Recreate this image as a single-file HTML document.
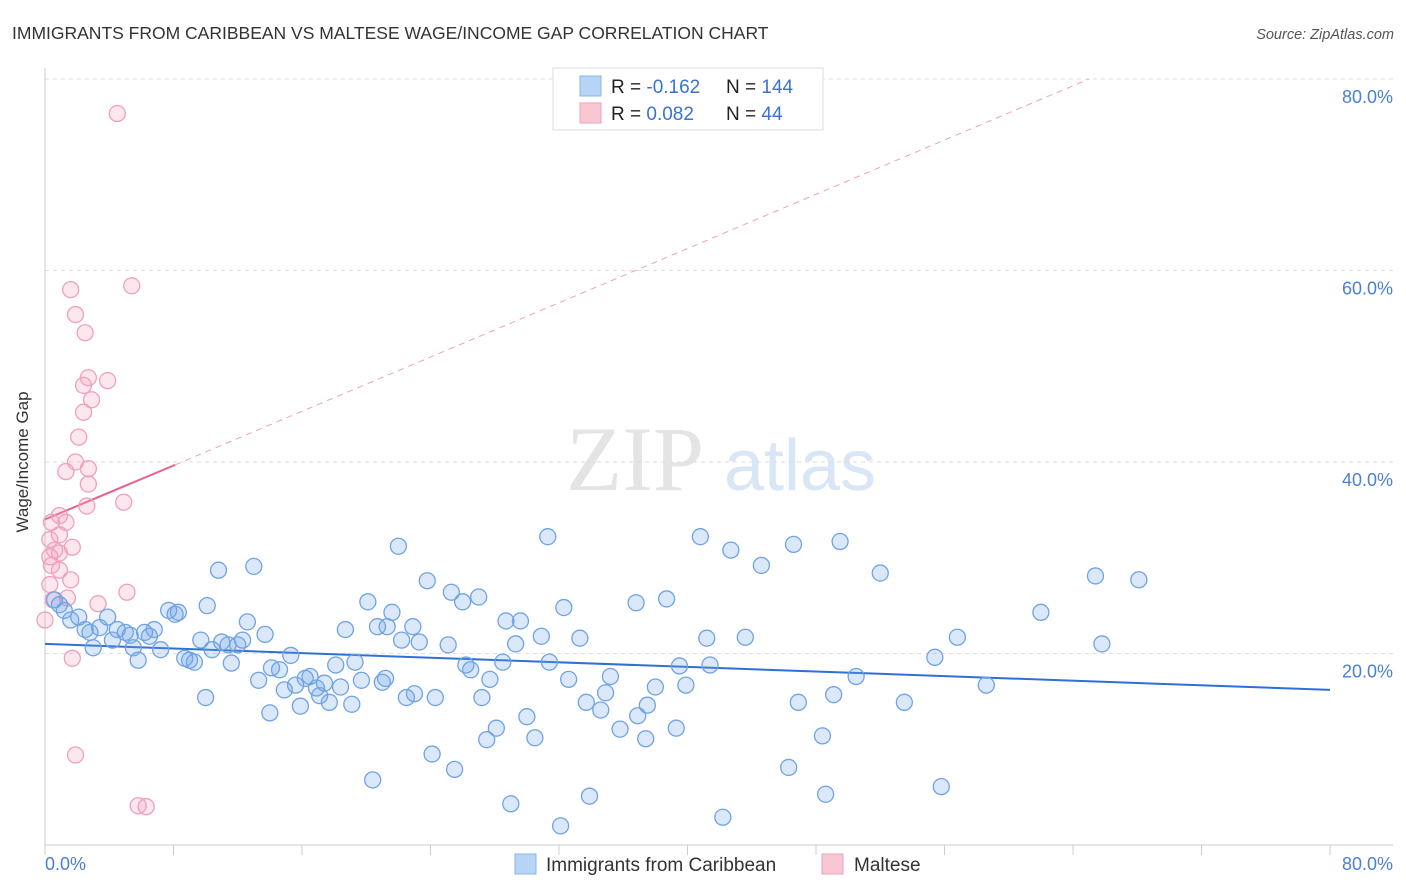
<!DOCTYPE html>
<html><head><meta charset="utf-8">
<style>
body{margin:0;background:#fff;font-family:"Liberation Sans",sans-serif;}
svg{display:block}
</style></head>
<body>
<svg id="chart" width="1406" height="892" xmlns="http://www.w3.org/2000/svg">
<text x="12" y="39" font-size="17.5" fill="#333">IMMIGRANTS FROM CARIBBEAN VS MALTESE WAGE/INCOME GAP CORRELATION CHART</text>
<text x="1394" y="39" font-size="14.5" fill="#555" font-style="italic" text-anchor="end">Source: ZipAtlas.com</text>
<g>
<text x="635" y="490" font-size="92" fill="#e4e4e4" font-family="Liberation Serif,serif" text-anchor="middle">ZIP</text>
<text x="800" y="490" font-size="72" fill="#d8e6f6" text-anchor="middle">atlas</text>
</g>
<g id="grid"></g>
<g id="axes"></g>
<g id="trend"></g>
<g id="pts"></g>
<text x="21" y="455" font-size="17" fill="#333" text-anchor="middle" transform="rotate(-90 28 455)">Wage/Income Gap</text>
<g>
<rect x="553" y="68" width="270" height="62" fill="#fff" stroke="#ddd"/>
<rect x="580" y="76" width="21" height="20" fill="#b8d4f4" stroke="#8ab4ea"/>
<rect x="580" y="103" width="21" height="20" fill="#f9c6d4" stroke="#f0a0b8"/>
<text x="611" y="93" font-size="19" fill="#222">R = <tspan fill="#3a72d2">-0.162</tspan></text>
<text x="726" y="93" font-size="19" fill="#222">N = <tspan fill="#3a72d2">144</tspan></text>
<text x="611" y="120" font-size="19" fill="#222">R = <tspan fill="#3a72d2"> 0.082</tspan></text>
<text x="726" y="120" font-size="19" fill="#222">N = <tspan fill="#3a72d2">  44</tspan></text>
</g>
<g>
<rect x="515" y="854" width="21" height="20" fill="#b8d4f4" stroke="#8ab4ea"/>
<text x="546" y="871" font-size="19" fill="#333">Immigrants from Caribbean</text>
<rect x="822" y="854" width="21" height="20" fill="#f9c6d4" stroke="#f0a0b8"/>
<text x="854" y="871" font-size="19" fill="#333">Maltese</text>
</g>
</svg>
<script>
const yTicks=[20,40,60,80];
const yTickLabels=["20.0%","40.0%","60.0%","80.0%"];
const xTickLabels=["0.0%","80.0%"];
const blueX=[0.6,0.9,1.2,1.6,2.1,2.5,2.8,3.0,3.4,3.9,4.2,4.5,5.0,5.3,5.5,5.8,6.2,6.5,6.8,7.2,7.7,8.1,8.3,8.7,9.0,9.3,9.7,10.0,10.1,10.4,10.8,11.0,11.4,11.6,12.0,12.3,12.6,13.0,13.3,13.7,14.0,14.1,14.6,14.9,15.3,15.6,15.9,16.2,16.5,16.9,17.1,17.4,17.7,18.1,18.4,18.7,19.1,19.3,19.7,20.1,20.4,20.7,21.0,21.2,21.3,21.6,22.0,22.2,22.5,22.9,23.0,23.3,23.8,24.1,24.3,25.1,25.3,25.5,26.0,26.2,26.5,27.0,27.2,27.5,27.7,28.1,28.5,28.7,29.0,29.3,29.6,30.0,30.5,30.9,31.3,31.4,32.3,32.6,33.3,33.7,33.9,34.6,34.9,35.2,35.8,36.8,36.9,37.4,37.5,38.0,38.7,39.3,39.5,39.9,40.8,41.2,41.4,42.2,42.7,43.6,44.6,46.3,46.6,46.9,48.4,48.6,49.1,49.5,50.5,52.0,53.5,55.4,55.8,56.8,58.6,62.0,65.4,65.8,68.1,32.1];
const blueY=[25.6,25.1,24.5,23.5,23.8,22.5,22.2,20.6,22.7,23.8,21.4,22.5,22.2,21.9,20.6,19.3,22.2,21.8,22.5,20.4,24.5,24.1,24.3,19.5,19.3,19.1,21.4,15.4,25.0,20.4,28.7,21.2,20.9,19.0,20.9,21.4,23.3,29.1,17.2,22.0,13.8,18.5,18.3,16.2,19.8,16.7,14.5,17.4,17.6,16.4,15.6,16.9,14.9,18.8,16.5,22.5,14.7,19.1,17.2,25.4,6.8,22.8,17.0,17.4,22.8,24.3,31.2,21.4,15.4,22.8,15.8,21.2,27.6,9.5,15.4,20.9,26.4,7.9,25.4,18.8,18.3,25.9,15.4,11.0,17.3,12.2,19.1,23.4,4.3,21.0,23.4,13.4,11.2,21.8,32.2,19.1,24.8,17.3,21.6,14.9,5.1,14.1,15.9,17.6,12.1,25.3,13.5,11.1,14.6,16.5,25.7,12.2,18.7,16.7,32.2,21.6,18.8,2.9,30.8,21.7,29.2,8.1,31.4,14.9,11.4,5.3,15.7,31.7,17.6,28.4,14.9,19.6,6.1,21.7,16.7,24.3,28.1,21.0,27.7,2.0];
const pinkX=[4.5,5.4,1.6,1.9,2.5,2.7,2.4,3.9,2.9,2.4,2.1,1.9,2.7,1.3,2.7,2.6,4.9,0.9,1.3,0.4,0.9,0.3,1.7,0.6,0.9,0.3,0.4,0.9,1.6,0.3,5.1,1.4,3.3,0.5,1.7,1.9,5.8,6.3,0.0];
const pinkY=[76.4,58.4,58.0,55.4,53.5,48.8,48.0,48.5,46.5,45.2,42.6,40.0,39.3,39.0,37.7,35.4,35.8,34.4,33.7,33.7,32.4,31.9,31.1,30.8,30.5,30.1,29.2,28.7,27.7,27.2,26.4,25.8,25.2,25.6,19.5,9.4,4.1,4.0,23.5];
const blueTrend=[21.0,16.2];
const pinkTrend=[34.0,39.7,80.0];
const pinkTrendX=[0,8.1,65];
const NS="http://www.w3.org/2000/svg";
const X0=45,X1=1330,Y0=845,YT=79;
const sx=v=>X0+(X1-X0)*v/80;
const sy=v=>Y0-(Y0-YT)*v/80;
function mk(tag,attrs,parent){const e=document.createElementNS(NS,tag);for(const k in attrs)e.setAttribute(k,attrs[k]);parent.appendChild(e);return e;}
const grid=document.getElementById('grid');
yTicks.forEach((t,i)=>{
 const l=mk('line',{x1:X0,x2:1393,y1:sy(t),y2:sy(t),stroke:'#ddd','stroke-dasharray':'4,4'},grid);
 
 
 const tx=mk('text',{x:1393,y:sy(t)+24,'font-size':18,fill:'#4a7fd4','text-anchor':'end'},grid);
 tx.textContent=yTickLabels[i];
 
 
});
const axes=document.getElementById('axes');
mk('line',{x1:X0,x2:X0,y1:68,y2:Y0,stroke:'#ccc'},axes);
mk('line',{x1:X0,x2:1393,y1:Y0,y2:Y0,stroke:'#ccc'},axes);
for(let v=0;v<=80;v+=8){mk('line',{x1:sx(v),x2:sx(v),y1:Y0,y2:Y0+10,stroke:'#ccc'},axes);}
const xl0=mk('text',{x:45,y:870,'font-size':18,fill:'#4a7fd4'},axes);xl0.textContent=xTickLabels[0];


const xl1=mk('text',{x:1393,y:870,'font-size':18,fill:'#4a7fd4','text-anchor':'end'},axes);xl1.textContent=xTickLabels[1];


const pts=document.getElementById('pts');
pinkX.forEach((x,i)=>{
 const c=mk('circle',{cx:sx(x),cy:sy(pinkY[i]),r:8,fill:'rgba(244,160,186,0.25)',stroke:'#f0a0b8','stroke-width':1.3},pts);
 
 
});
blueX.forEach((x,i)=>{
 const c=mk('circle',{cx:sx(x),cy:sy(blueY[i]),r:8,fill:'rgba(110,165,232,0.25)',stroke:'#6fa3e6','stroke-width':1.3},pts);
 
 
});
const tr=document.getElementById('trend');
const bl=mk('line',{x1:sx(0),y1:sy(blueTrend[0]),x2:sx(80),y2:sy(blueTrend[1]),stroke:'#2f6fd6','stroke-width':2},tr);


const pd=mk('line',{x1:sx(pinkTrendX[1]),y1:sy(pinkTrend[1]),x2:sx(pinkTrendX[2]),y2:sy(pinkTrend[2]),stroke:'#f0a0b8','stroke-width':1,'stroke-dasharray':'6,5'},tr);


const pl=mk('line',{x1:sx(pinkTrendX[0]),y1:sy(pinkTrend[0]),x2:sx(pinkTrendX[1]),y2:sy(pinkTrend[1]),stroke:'#e8608c','stroke-width':2},tr);


</script>
</body></html>
